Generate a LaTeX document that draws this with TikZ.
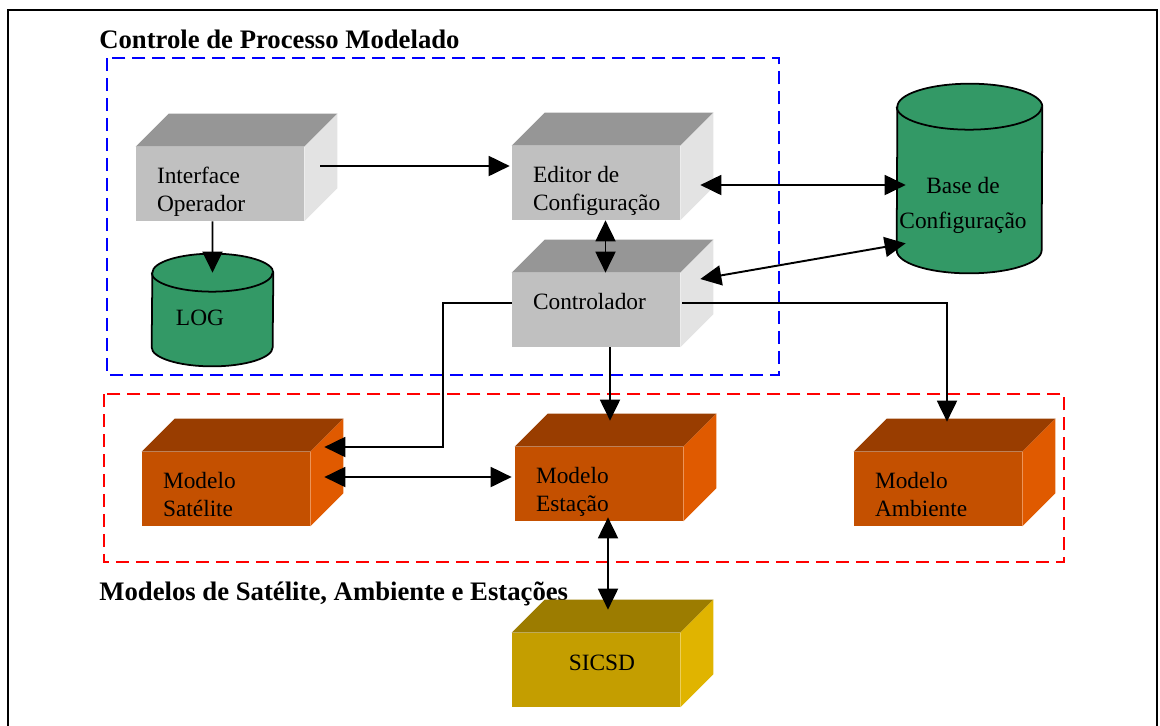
\documentclass[tikz,border=0pt]{standalone}
\usepackage{fontspec}
\setmainfont{Liberation Serif}
\usetikzlibrary{arrows.meta}

% cores das caixas (frente, topo, lado)
\definecolor{cinzaFrente}{HTML}{C0C0C0}
\definecolor{cinzaTopo}{HTML}{969696}
\definecolor{cinzaLado}{HTML}{E3E3E3}
\definecolor{laranjaFrente}{HTML}{C45000}
\definecolor{laranjaTopo}{HTML}{993D00}
\definecolor{laranjaLado}{HTML}{E05A00}
\definecolor{ouroFrente}{HTML}{C49E00}
\definecolor{ouroTopo}{HTML}{9C7C00}
\definecolor{ouroLado}{HTML}{E0B400}
\definecolor{verdeBase}{HTML}{339966}
\definecolor{azulTraco}{HTML}{0000FF}
\definecolor{vermelhoTraco}{HTML}{FF0000}

\tikzset{
  caixa/.style={rectangle, inner sep=0pt, minimum width=3.36cm, minimum height=1.48cm},
  texto/.style={inner sep=0pt, align=left, font=\fontsize{13.3}{15.9}\selectfont},
  titulo/.style={inner sep=0pt, anchor=base west, font=\fontsize{15.2}{18}\selectfont\bfseries},
  grupo/.style={line width=1.1pt, dash pattern=on 0.26cm off 0.14cm},
  seta/.style={line width=1.1pt, -{Triangle[length=0.42cm,width=0.4cm]}},
  setadupla/.style={line width=1.1pt, {Triangle[length=0.42cm,width=0.4cm]}-{Triangle[length=0.42cm,width=0.4cm]}},
  cilindro/.style={fill=verdeBase, draw=black, line width=1pt},
}

\begin{document}
\begin{tikzpicture}[x=0.02cm, y=-0.02cm]
\useasboundingbox (0,0) rectangle (1160,725);

% moldura
\draw[line width=1.2pt] (8,10) rectangle (1157,760);

% grupos tracejados
\draw[grupo, azulTraco] (107,58) rectangle (779,375);
\draw[grupo, vermelhoTraco] (104,394) rectangle (1064,562);

\node[titulo] (tit-ctrl) at (99,48) {Controle de Processo Modelado};
\node[titulo] (tit-mod) at (99,600) {Modelos de Satélite, Ambiente e Estações};

% caixas: face da frente
\node[caixa, fill=cinzaFrente] (iface) at (220,184) {};
\node[caixa, fill=cinzaFrente] (editor) at (596,183) {};
\node[caixa, fill=cinzaFrente] (ctrl) at (596,310) {};
\node[caixa, fill=laranjaFrente] (sat) at (226,489) {};
\node[caixa, fill=laranjaFrente] (est) at (599,484) {};
\node[caixa, fill=laranjaFrente] (amb) at (938,489) {};
\node[caixa, fill=ouroFrente] (sicsd) at (596,670) {};

% caixas: topo e lado
\foreach \n/\cor in {iface/cinza, editor/cinza, ctrl/cinza, sat/laranja, est/laranja, amb/laranja, sicsd/ouro} {
  \fill[fill=\cor Topo] (\n.north west) -- ++(33,-33) -- ([shift={(33,-33)}]\n.north east) -- (\n.north east) -- cycle;
  \fill[fill=\cor Lado] (\n.north east) -- ++(33,-33) -- ([shift={(33,-33)}]\n.south east) -- (\n.south east) -- cycle;
}

% textos das caixas
\node[texto, anchor=north west] (iface-t) at ([shift={(21,17)}]iface.north west) {\strut Interface\\Operador};
\node[texto, anchor=north west] (editor-t) at ([shift={(21,17)}]editor.north west) {\strut Editor de\\Configuração};
\node[texto, anchor=north west] (ctrl-t) at ([shift={(21,17)}]ctrl.north west) {\strut Controlador};
\node[texto, anchor=north west] (sat-t) at ([shift={(21,17)}]sat.north west) {\strut Modelo\\Satélite};
\node[texto, anchor=north west] (est-t) at ([shift={(21,17)}]est.north west) {\strut Modelo\\Estação};
\node[texto, anchor=north west] (amb-t) at ([shift={(21,17)}]amb.north west) {\strut Modelo\\Ambiente};
\node[texto] (sicsd-t) at ([shift={(6,-7)}]sicsd.center) {SICSD};

% bases de dados
\node[inner sep=0pt, minimum width=2.9cm, minimum height=2.86cm] (base) at (969.5,178.5) {};
\filldraw[cilindro] (base.south west) arc[start angle=180, end angle=360, x radius=1.45cm, y radius=0.46cm]
  -- (base.north east) arc[start angle=0, end angle=180, x radius=1.45cm, y radius=0.46cm] -- cycle;
\draw[line width=1pt] (base.north west) arc[start angle=180, end angle=360, x radius=1.45cm, y radius=0.46cm];
\node[texto, align=center, font=\fontsize{13.3}{20}\selectfont] (base-t) at ([shift={(-6.5,26.5)}]base.center) {Base de\\Configuração};

\node[inner sep=0pt, minimum width=2.42cm, minimum height=1.48cm] (log) at (212.5,310) {};
\filldraw[cilindro] (log.south west) arc[start angle=180, end angle=360, x radius=1.21cm, y radius=0.38cm]
  -- (log.north east) arc[start angle=0, end angle=180, x radius=1.21cm, y radius=0.38cm] -- cycle;
\draw[line width=1pt] (log.north west) arc[start angle=180, end angle=360, x radius=1.21cm, y radius=0.38cm];
\node[texto] (log-t) at ([shift={(-12.5,8)}]log.center) {LOG};

% ligacoes
\draw[seta] ([shift={(16,-18)}]iface.east) -- ([shift={(-2,-17)}]editor.west);
\draw[seta] ([shift={(-7.5,0)}]iface.south) -- (log.north);
\draw[setadupla] ([shift={(20,2)}]editor.east) -- ([shift={(9,6.5)}]base.west);
\draw[setadupla] ([shift={(9.5,0)}]editor.south) -- ([shift={(9.5,0)}]ctrl.north);
\draw[setadupla] ([shift={(20,-31)}]ctrl.east) -- ([shift={(9,-7)}]base.south west);
\draw[seta] ([shift={(0,-7)}]ctrl.west) -- ++(-69,0) |- ([shift={(14,-42)}]sat.east);
\draw[setadupla] ([shift={(14,-12)}]sat.east) -- ([shift={(-3,-7)}]est.west);
\draw[seta] ([shift={(14,0)}]ctrl.south) -- ([shift={(11,-26)}]est.north);
\draw[seta] ([shift={(2,-7)}]ctrl.east) -| ([shift={(9,-30)}]amb.north);
\draw[setadupla] ([shift={(9,-4)}]est.south) -- ([shift={(12,-23)}]sicsd.north);
\end{tikzpicture}
\end{document}
